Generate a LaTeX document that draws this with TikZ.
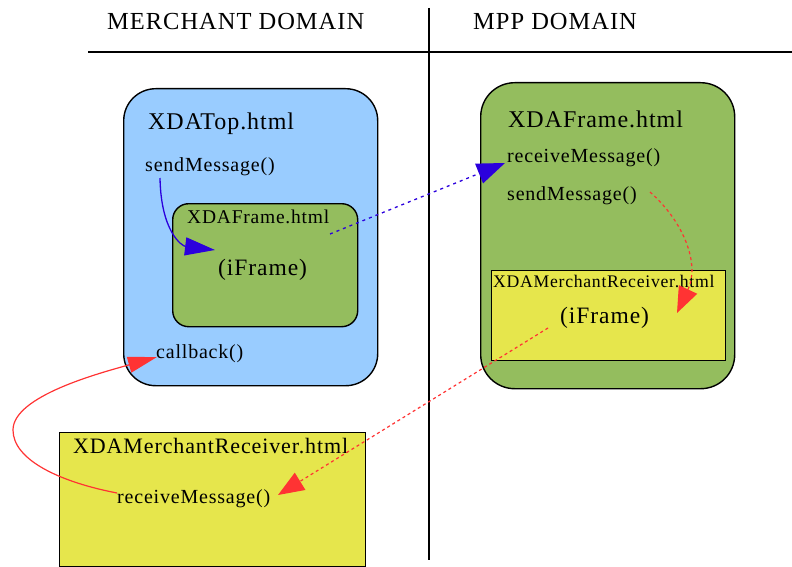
\documentclass[tikz,border=0pt]{standalone}
\usepackage{fontspec}
\setmainfont{Liberation Serif}[LetterSpace=4]
\usetikzlibrary{arrows.meta}

\definecolor{topblue}{HTML}{99CCFF}
\definecolor{framegreen}{HTML}{94BD5E}
\definecolor{recvyellow}{HTML}{E6E64C}
\definecolor{msgred}{HTML}{FF3333}
\definecolor{msgblue}{HTML}{2B00DD}

\tikzset{
  fs/.style={font=\fontsize{#1}{#1}\selectfont},
  lbl/.style={anchor=base west, inner sep=0pt, text=black},
  pagebox/.style={draw=black, line width=1.4pt, anchor=north west, inner sep=0pt},
  divider/.style={draw=black, line width=1.4pt},
  bluecall/.style={draw=msgblue, line width=1.3pt, -{Triangle[length=30pt,width=18pt]}},
  bluedash/.style={draw=msgblue, line width=1.3pt, dash pattern=on 3pt off 4pt, -{Triangle[length=28pt,width=21pt]}},
  reddash/.style={draw=msgred, line width=1.2pt, dash pattern=on 3pt off 3pt, -{Triangle[length=26pt,width=20pt]}},
  redcall/.style={draw=msgred, line width=1.2pt, -{Triangle[length=29pt,width=16pt]}},
}

\begin{document}
\begin{tikzpicture}[x=1pt,y=-1pt]
  \useasboundingbox (0,0) rectangle (792,567);

  % domain headers and dividing lines
  \coordinate (hl) at (88,52);
  \coordinate (hr) at (792,52);
  \coordinate (vt) at (429,8);
  \coordinate (vb) at (429,560);
  \draw[divider] (hl) -- (hr);
  \draw[divider] (vt) -- (vb);
  \node[lbl, fs=24.5] (merchant) at (107,30) {MERCHANT DOMAIN};
  \node[lbl, fs=24.5] (mpp) at (473,30) {MPP DOMAIN};

  % merchant page
  \node[pagebox, fill=topblue, rounded corners=32pt,
        minimum width=254pt, minimum height=297pt] (top) at (123,88) {};
  \node[lbl, fs=24] (toptitle) at (148,130) {XDATop.html};
  \node[lbl, fs=20] (topsend) at (145,171) {sendMessage()};
  \node[pagebox, fill=framegreen, rounded corners=16pt,
        minimum width=185pt, minimum height=123pt] (innerframe) at (172,203) {};
  \node[lbl, fs=19.5] (innertitle) at (187,223) {XDAFrame.html};
  \node[lbl, fs=23.5] (inneriframe) at (218,275) {(iFrame)};
  \node[lbl, fs=20] (callback) at (156,358) {callback()};

  % merchant receiver page
  \node[pagebox, fill=recvyellow,
        minimum width=306pt, minimum height=134pt] (recv) at (59,432) {};
  \node[lbl, fs=22] (recvtitle) at (73,453) {XDAMerchantReceiver.html};
  \node[lbl, fs=20] (recvmsg) at (117,503) {receiveMessage()};

  % MPP frame page
  \node[pagebox, fill=framegreen, rounded corners=34pt,
        minimum width=254pt, minimum height=306pt] (mppframe) at (480,82) {};
  \node[lbl, fs=24] (mpptitle) at (508,128) {XDAFrame.html};
  \node[lbl, fs=20] (mppreceive) at (507,162) {receiveMessage()};
  \node[lbl, fs=20] (mppsend) at (507,200) {sendMessage()};
  \node[pagebox, fill=recvyellow,
        minimum width=234pt, minimum height=90pt] (mpprecv) at (491,270) {};
  \node[lbl, fs=17.7] (mpprecvtitle) at (493,287) {XDAMerchantReceiver.html};
  \node[lbl, fs=23.5] (mppiframe) at (560,323) {(iFrame)};

  % message flow end points
  \coordinate (sendA) at (160,178);
  \coordinate (iframeA) at (215,250);
  \coordinate (postA) at (330,234);
  \coordinate (recvB) at (505,163);
  \coordinate (sendB) at (650,192);
  \coordinate (iframeB) at (677,313);
  \coordinate (postB) at (548,328);
  \coordinate (recvC) at (278,495);
  \coordinate (fromC) at (117,493);
  \coordinate (loopC) at (13,430);
  \coordinate (callC) at (157,357);

  % message flow
  \draw[bluecall] (sendA) .. controls (161,232) and (182,246) .. (iframeA);
  \draw[bluedash] (postA) -- (recvB);
  \draw[reddash] (sendB) .. controls (684,222) and (700,264) .. (iframeB);
  \draw[reddash] (postB) -- (recvC);
  \draw[redcall] (fromC) .. controls (60,482) and (13,460) .. (loopC)
                 .. controls (13,396) and (100,373) .. (callC);
\end{tikzpicture}
\end{document}
